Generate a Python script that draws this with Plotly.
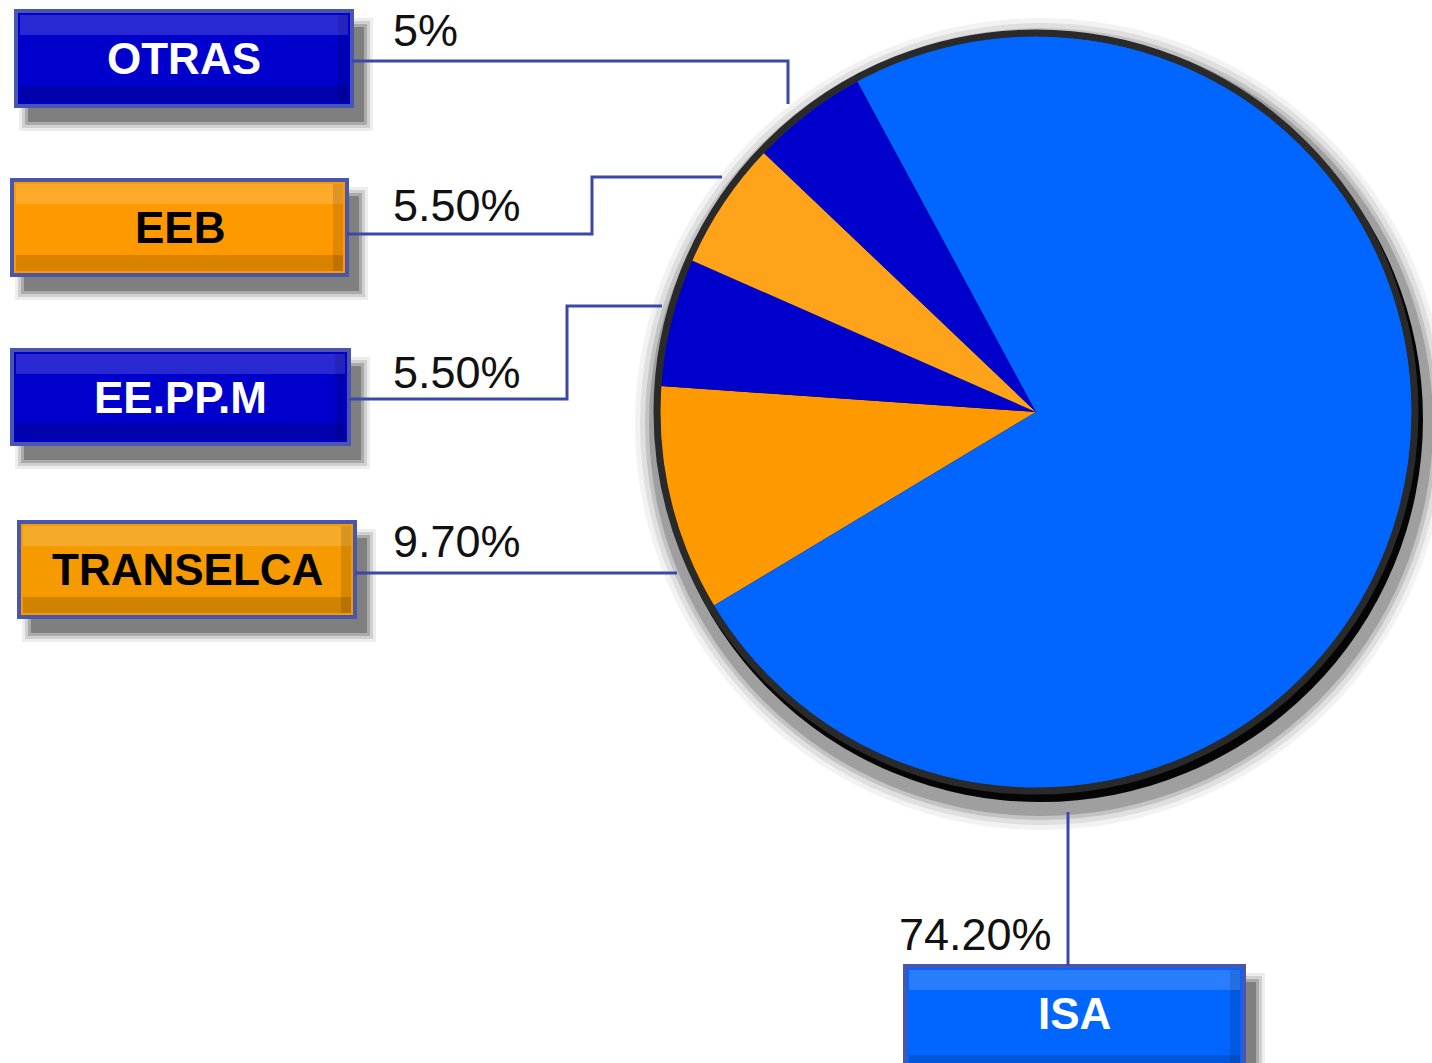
import plotly.graph_objects as go

# ---- data (clockwise order starting at the TRANSELCA/ISA boundary) ----
labels = ["TRANSELCA", "EE.PP.M", "EEB", "OTRAS", "ISA"]
values = [9.7, 5.5, 5.5, 5.0, 74.2]
pct_text = ["9.70%", "5.50%", "5.50%", "5%", "74.20%"]
slice_colors = ["#FF9900", "#0000CC", "#FFA31A", "#0000CC", "#0066FF"]
box_colors = ["#F59A00", "#0000CC", "#FF9900", "#0000CC", "#0066FF"]
box_text_colors = ["#000000", "#FFFFFF", "#000000", "#FFFFFF", "#FFFFFF"]

W, H = 1432, 1063
CX, CY, R = 1036, 412, 376


def px(x):
    return x / W


def py(y):
    return 1 - y / H


fig = go.Figure()
fig.add_trace(go.Pie(
    labels=labels, values=values, sort=False, direction="clockwise",
    rotation=-121, textinfo="none", hoverinfo="label+percent",
    marker=dict(colors=slice_colors, line=dict(width=0)),
    domain=dict(x=[px(CX - R), px(CX + R)], y=[py(CY + R), py(CY - R)]),
    showlegend=False,
))

shapes = []
# soft shadow of the pie
for grow, op in [(30, 0.05), (25, 0.08), (20, 0.12), (16, 0.18)]:
    ox, oy = 5, 12
    shapes.append(dict(type="circle", xref="paper", yref="paper", layer="below",
                       x0=px(CX - R - grow + ox), x1=px(CX + R + grow + ox),
                       y0=py(CY + R + grow + oy), y1=py(CY - R - grow + oy),
                       fillcolor=f"rgba(0,0,0,{op})", line=dict(width=0)))
# heavy dark rim towards bottom-right
shapes.append(dict(type="circle", xref="paper", yref="paper", layer="below",
                   x0=px(CX - R - 6 + 3), x1=px(CX + R + 8 + 3),
                   y0=py(CY + R + 8 + 6), y1=py(CY - R - 6 + 6),
                   fillcolor="#050505", line=dict(width=0)))
# thin rim all round
shapes.append(dict(type="circle", xref="paper", yref="paper", layer="above",
                   x0=px(CX - R - 3), x1=px(CX + R + 3),
                   y0=py(CY + R + 3), y1=py(CY - R - 3),
                   line=dict(color="#2a2a2a", width=7)))

# ---- label boxes: (x0, y0, x1, y1) in pixels ----
box_pos = {
    "OTRAS": (16, 11, 352, 106),
    "EEB": (12, 180, 347, 275),
    "EE.PP.M": (12, 350, 349, 444),
    "TRANSELCA": (19, 522, 355, 617),
    "ISA": (905, 966, 1244, 1075),
}

annotations = []
for lab, bc, tc in zip(labels, box_colors, box_text_colors):
    x0, y0, x1, y1 = box_pos[lab]
    # shadow
    for grow, op in [(9, 0.07), (6, 0.12), (3, 0.18), (0, 0.25)]:
        shapes.append(dict(type="rect", xref="paper", yref="paper", layer="below",
                           x0=px(x0 + 12 - grow), x1=px(x1 + 12 + grow),
                           y0=py(y1 + 16 + grow), y1=py(y0 + 16 - grow),
                           fillcolor=f"rgba(0,0,0,{op})", line=dict(width=0)))
    shapes.append(dict(type="rect", xref="paper", yref="paper", layer="below",
                       x0=px(x0), x1=px(x1), y0=py(y1), y1=py(y0),
                       fillcolor=bc, line=dict(color="#4A56AE", width=4)))
    # highlight / shade bands for bevel look
    shapes.append(dict(type="rect", xref="paper", yref="paper", layer="below",
                       x0=px(x0 + 4), x1=px(x1 - 4), y0=py(y0 + 24), y1=py(y0 + 4),
                       fillcolor="rgba(255,255,255,0.16)", line=dict(width=0)))
    shapes.append(dict(type="rect", xref="paper", yref="paper", layer="below",
                       x0=px(x0 + 4), x1=px(x1 - 4), y0=py(y1 - 4), y1=py(y1 - 20),
                       fillcolor="rgba(0,0,0,0.15)", line=dict(width=0)))
    shapes.append(dict(type="rect", xref="paper", yref="paper", layer="below",
                       x0=px(x1 - 14), x1=px(x1 - 4), y0=py(y1 - 4), y1=py(y0 + 4),
                       fillcolor="rgba(0,0,0,0.12)", line=dict(width=0)))
    ty = (y0 + y1) / 2 if lab != "ISA" else 1013
    annotations.append(dict(
        x=px((x0 + x1) / 2), y=py(ty), xref="paper", yref="paper",
        text=f"<b>{lab}</b>", showarrow=False, xanchor="center", yanchor="middle",
        font=dict(family="Liberation Sans, Arial", size=44, color=tc)))

# ---- leader lines (pixel polylines) ----
line_color = "#3C48A8"
leaders = {
    "OTRAS": [(352, 61), (788, 61), (788, 104)],
    "EEB": [(347, 234), (592, 234), (592, 177), (722, 177)],
    "EE.PP.M": [(349, 399), (567, 399), (567, 306), (662, 306)],
    "TRANSELCA": [(355, 573), (677, 573)],
    "ISA": [(1068, 812), (1068, 966)],
}
for lab, pts in leaders.items():
    path = "M " + " L ".join(f"{px(x):.5f},{py(y):.5f}" for x, y in pts)
    shapes.append(dict(type="path", xref="paper", yref="paper", path=path,
                       layer="below", line=dict(color=line_color, width=3)))

# ---- percentage labels ----
pct_pos = {
    "OTRAS": (391, 30, "left"),
    "EEB": (391, 206, "left"),
    "EE.PP.M": (391, 372, "left"),
    "TRANSELCA": (391, 541, "left"),
    "ISA": (1054, 934, "right"),
}
for lab, t in zip(labels, pct_text):
    x, y, anc = pct_pos[lab]
    annotations.append(dict(
        x=px(x), y=py(y), xref="paper", yref="paper", text=t, showarrow=False,
        xanchor=anc, yanchor="middle",
        font=dict(family="Liberation Sans, Arial", size=45, color="#111111")))

fig.update_layout(
    width=W, height=H, margin=dict(l=0, r=0, t=0, b=0),
    paper_bgcolor="white", plot_bgcolor="white",
    shapes=shapes, annotations=annotations, showlegend=False,
)
fig.write_html("out.html", config={"displayModeBar": False},
               post_script="document.body.style.margin='0px';document.body.style.overflow='hidden';")
